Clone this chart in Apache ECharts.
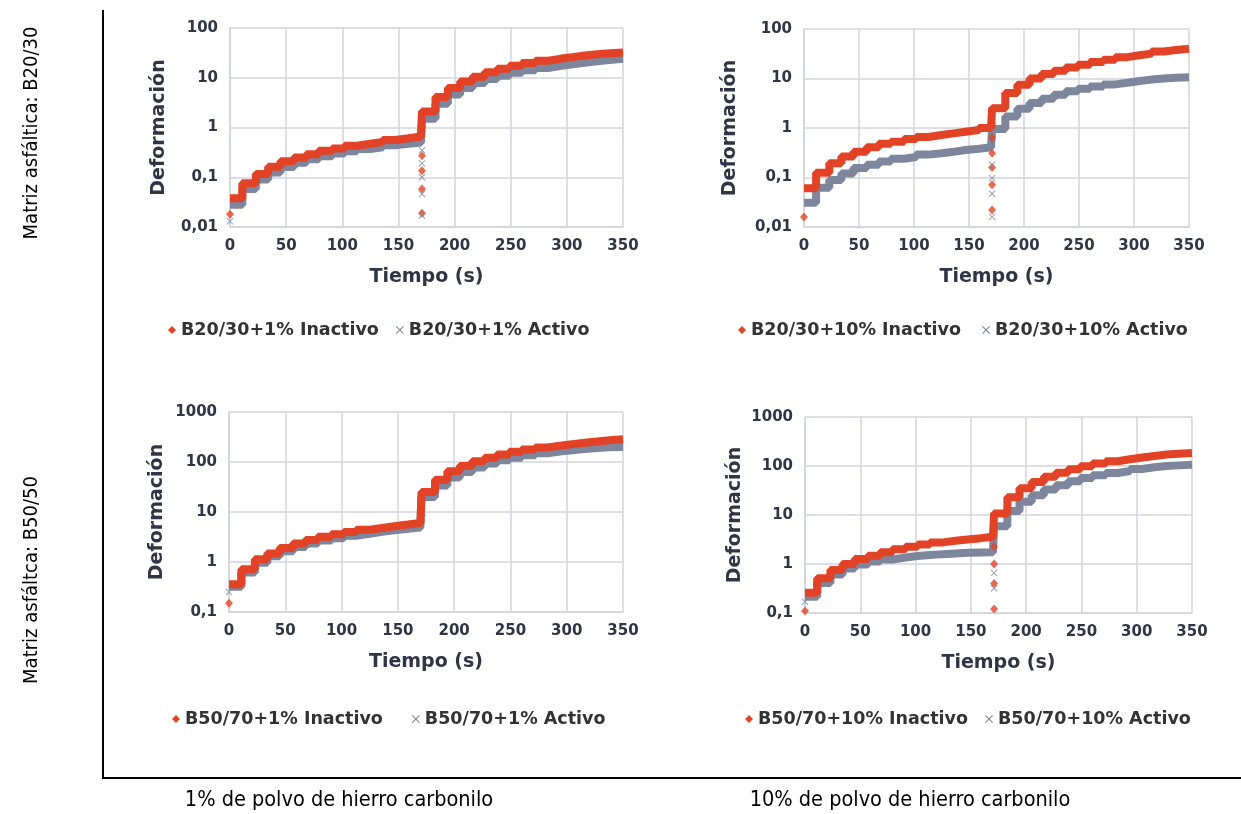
<!DOCTYPE html>
<html>
<head>
<meta charset="utf-8">
<script src="https://cdn.jsdelivr.net/npm/echarts@6/dist/echarts.min.js"></script>
<style>
html,body{margin:0;padding:0;background:#fff;}
#main{width:1241px;height:814px;}
</style>
</head>
<body>
<div id="main"></div>
<script>
// inicio de cada escalón (s), primer y segundo tramo
var tramo1 = [0, 11, 23, 34, 45, 57, 68, 79, 91, 102, 113, 125, 136, 147, 159];
var fin1 = 170;
var tramo2 = [171, 183, 194, 205, 216, 227, 238, 249, 260, 272, 283, 294, 305, 316, 327, 338];
var fin2 = 350;

// B20/30 + 1%
var b2030_1_inac_t1 = [0.038, 0.076, 0.116, 0.163, 0.21, 0.25, 0.29, 0.34, 0.38, 0.43, 0.47, 0.51, 0.56, 0.61, 0.66];
var b2030_1_inac_t2 = [2.1, 4.1, 6.2, 8.4, 10.5, 12.9, 15.2, 17.4, 19.7, 21.9, 24, 26, 28, 29.8, 31, 32];
var b2030_1_act_t1 = [0.028, 0.058, 0.09, 0.125, 0.16, 0.195, 0.23, 0.265, 0.3, 0.335, 0.37, 0.4, 0.44, 0.47, 0.5];
var b2030_1_act_t2 = [1.5, 3.0, 4.6, 6.2, 7.8, 9.4, 11.0, 12.6, 14.2, 15.7, 17.2, 18.7, 20.1, 21.5, 22.8, 24];
var b2030_1_inac_pts = [[0, 0.018], [171, 0.019], [171, 0.058], [171, 0.135], [171, 0.27], [171, 1.0]];
var b2030_1_act_pts = [[0, 0.013], [171, 0.017], [171, 0.046], [171, 0.10], [171, 0.19], [171, 0.35]];

// B20/30 + 10%
var b2030_10_inac_t1 = [0.061, 0.125, 0.195, 0.265, 0.33, 0.41, 0.48, 0.53, 0.6, 0.66, 0.72, 0.78, 0.84, 0.91, 1.0];
var b2030_10_inac_t2 = [2.5, 5.1, 7.5, 10, 12.4, 14.4, 16.7, 19, 21.5, 24, 27, 29.4, 31.8, 35, 37.8, 40];
var b2030_10_act_t1 = [0.031, 0.062, 0.089, 0.12, 0.155, 0.18, 0.21, 0.24, 0.26, 0.29, 0.31, 0.33, 0.36, 0.38, 0.41];
var b2030_10_act_t2 = [0.95, 1.7, 2.45, 3.2, 3.9, 4.7, 5.5, 6.2, 6.9, 7.6, 8.2, 8.9, 9.5, 10, 10.4, 10.6];
var b2030_10_inac_pts = [[0, 0.016], [171, 0.022], [171, 0.071], [171, 0.16], [171, 0.31], [171, 0.64], [171, 1.26]];
var b2030_10_act_pts = [[171, 0.016], [171, 0.047], [171, 0.097], [171, 0.18]];

// B50/70 + 1%
var b5070_1_inac_t1 = [0.36, 0.72, 1.13, 1.48, 1.9, 2.35, 2.75, 3.2, 3.6, 4.0, 4.4, 4.8, 5.2, 5.6, 6.0];
var b5070_1_inac_t2 = [25, 44, 65, 83, 103, 122, 142, 160, 178, 196, 212, 228, 243, 258, 272, 285];
var b5070_1_act_t1 = [0.32, 0.62, 0.97, 1.3, 1.65, 2.0, 2.35, 2.7, 3.0, 3.35, 3.65, 4.0, 4.3, 4.6, 4.9];
var b5070_1_act_t2 = [20, 34, 49, 63, 78, 93, 108, 122, 136, 150, 162, 172, 182, 190, 197, 200];
var b5070_1_inac_pts = [[0, 0.15], [171, 8.7], [171, 12.6]];
var b5070_1_act_pts = [[0, 0.25]];

// B50/70 + 10%
var b5070_10_inac_t1 = [0.26, 0.51, 0.75, 1.0, 1.26, 1.47, 1.73, 2.0, 2.24, 2.5, 2.76, 2.97, 3.16, 3.37, 3.6];
var b5070_10_inac_t2 = [10.7, 23, 35, 47, 60, 73, 86, 99, 112, 125, 137, 149, 160, 171, 178, 185];
var b5070_10_act_t1 = [0.215, 0.41, 0.61, 0.81, 0.98, 1.12, 1.24, 1.36, 1.45, 1.52, 1.59, 1.64, 1.69, 1.72, 1.74];
var b5070_10_act_t2 = [5.9, 12, 18.6, 25.3, 33, 40.5, 49, 57, 65, 72, 79, 87, 94, 100, 103, 106];
var b5070_10_inac_pts = [[0, 0.11], [171, 0.12], [171, 0.4], [171, 1.0], [171, 2.24]];
var b5070_10_act_pts = [[0, 0.17], [171, 0.32], [171, 0.66]];

var ROJO = '#e24326';
var GRIS = '#7d869d';
var TEXTO = '#2f3546';
var REJILLA = '#d2d4dd';
var FUENTE = 'DejaVu Sans';
var FUENTE_DOC = "'Liberation Sans Narrow', 'DejaVu Sans Condensed', Roboto, sans-serif";
var ICONO_X = 'path://M1,0L5,4L9,0L10,1L6,5L10,9L9,10L5,6L1,10L0,9L4,5L0,1Z';

// convierte los escalones en puntos de una linea escalonada
function escalones(t1, t2) {
    var d = [];
    tramo1.forEach(function (t, i) { d.push([t, t1[i]]); });
    d.push([fin1, t1[t1.length - 1]]);
    tramo2.forEach(function (t, i) { d.push([t, t2[i]]); });
    d.push([fin2, t2[t2.length - 1]]);
    return d;
}

function fmtLog(v) {
    var e = Math.round(Math.log10(v));
    return e < 0 ? Math.pow(10, e).toFixed(-e).replace('.', ',') : String(Math.round(Math.pow(10, e)));
}

var graficos = [
    {grid: {left: 230, top: 28, width: 393, height: 199}, min: 0.01, max: 100, legend: {left: 163, top: 316, gap: 17},
     inac: 'B20/30+1% Inactivo', act: 'B20/30+1% Activo', gapY: 61,
     d: [b2030_1_inac_t1, b2030_1_inac_t2, b2030_1_act_t1, b2030_1_act_t2, b2030_1_inac_pts, b2030_1_act_pts]},
    {grid: {left: 804, top: 29, width: 385, height: 198}, min: 0.01, max: 100, legend: {left: 733, top: 316, gap: 21},
     inac: 'B20/30+10% Inactivo', act: 'B20/30+10% Activo', gapY: 64,
     d: [b2030_10_inac_t1, b2030_10_inac_t2, b2030_10_act_t1, b2030_10_act_t2, b2030_10_inac_pts, b2030_10_act_pts]},
    {grid: {left: 229, top: 412, width: 394, height: 200}, min: 0.1, max: 1000, legend: {left: 167, top: 705, gap: 29},
     inac: 'B50/70+1% Inactivo', act: 'B50/70+1% Activo', gapY: 62,
     d: [b5070_1_inac_t1, b5070_1_inac_t2, b5070_1_act_t1, b5070_1_act_t2, b5070_1_inac_pts, b5070_1_act_pts]},
    {grid: {left: 805, top: 417, width: 387, height: 196}, min: 0.1, max: 1000, legend: {left: 740, top: 705, gap: 17},
     inac: 'B50/70+10% Inactivo', act: 'B50/70+10% Activo', gapY: 60,
     d: [b5070_10_inac_t1, b5070_10_inac_t2, b5070_10_act_t1, b5070_10_act_t2, b5070_10_inac_pts, b5070_10_act_pts]}
];

var option = {
    animation: false,
    backgroundColor: '#fff',
    grid: [], xAxis: [], yAxis: [], legend: [], series: [],
    graphic: [
        // marco
        {type: 'line', shape: {x1: 103, y1: 10, x2: 103, y2: 778}, style: {stroke: '#000', lineWidth: 2}},
        {type: 'line', shape: {x1: 102, y1: 778, x2: 1241, y2: 778}, style: {stroke: '#000', lineWidth: 2}},
        {type: 'text', x: 32, y: 133, rotation: Math.PI / 2,
         style: {text: 'Matriz asfáltica: B20/30', font: '20px ' + FUENTE_DOC, fill: '#000', align: 'center', verticalAlign: 'middle'}},
        {type: 'text', x: 32, y: 580, rotation: Math.PI / 2,
         style: {text: 'Matriz asfáltca: B50/50', font: '20px ' + FUENTE_DOC, fill: '#000', align: 'center', verticalAlign: 'middle'}},
        {type: 'text', x: 339, y: 800,
         style: {text: '1% de polvo de hierro carbonilo', font: '21.5px ' + FUENTE_DOC, fill: '#000', align: 'center', verticalAlign: 'middle'}},
        {type: 'text', x: 910, y: 800,
         style: {text: '10% de polvo de hierro carbonilo', font: '21.5px ' + FUENTE_DOC, fill: '#000', align: 'center', verticalAlign: 'middle'}}
    ]
};

graficos.forEach(function (g, i) {
    option.grid.push(g.grid);
    option.xAxis.push({
        type: 'value', gridIndex: i, min: 0, max: 350, interval: 50,
        name: 'Tiempo (s)', nameLocation: 'middle', nameGap: 41,
        nameTextStyle: {fontFamily: FUENTE, fontWeight: 'bold', fontSize: 19, color: TEXTO},
        axisLine: {show: true, lineStyle: {color: REJILLA, width: 1.5}},
        axisTick: {show: false},
        axisLabel: {fontFamily: FUENTE, fontWeight: 'bold', fontSize: 15, color: TEXTO, margin: 12},
        splitLine: {show: true, lineStyle: {color: REJILLA, width: 1.5}}
    });
    option.yAxis.push({
        type: 'log', logBase: 10, gridIndex: i, min: g.min, max: g.max,
        name: 'Deformación', nameLocation: 'middle', nameGap: g.gapY,
        nameTextStyle: {fontFamily: FUENTE, fontWeight: 'bold', fontSize: 19, color: TEXTO},
        axisLine: {show: true, lineStyle: {color: REJILLA, width: 1.5}},
        axisTick: {show: false},
        axisLabel: {fontFamily: FUENTE, fontWeight: 'bold', fontSize: 15, color: TEXTO, margin: 12, formatter: fmtLog},
        splitLine: {show: true, lineStyle: {color: REJILLA, width: 1.5}}
    });
    option.legend.push({
        left: g.legend.left, top: g.legend.top, orient: 'horizontal',
        itemWidth: 8, itemHeight: 8, itemGap: g.legend.gap, selectedMode: false,
        textStyle: {fontFamily: FUENTE, fontWeight: 'bold', fontSize: 17.5, color: '#333'},
        data: [{name: g.inac, icon: 'diamond'}, {name: g.act, icon: ICONO_X}]
    });
    option.series.push(
        {name: g.act, type: 'line', xAxisIndex: i, yAxisIndex: i, step: 'end', symbol: 'none',
         color: GRIS, lineStyle: {color: GRIS, width: 8}, data: escalones(g.d[2], g.d[3]), z: 2},
        {name: g.inac, type: 'line', xAxisIndex: i, yAxisIndex: i, step: 'end', symbol: 'none',
         color: ROJO, lineStyle: {color: ROJO, width: 8}, data: escalones(g.d[0], g.d[1]), z: 3},
        {name: g.inac, type: 'scatter', xAxisIndex: i, yAxisIndex: i, symbol: 'diamond', symbolSize: [8, 9],
         itemStyle: {color: ROJO}, data: g.d[4], z: 4},
        {name: g.act, type: 'scatter', xAxisIndex: i, yAxisIndex: i, symbol: ICONO_X, symbolSize: 7,
         itemStyle: {color: GRIS}, data: g.d[5], z: 5}
    );
});

var chart = echarts.init(document.getElementById('main'));
chart.setOption(option);
</script>
</body>
</html>
